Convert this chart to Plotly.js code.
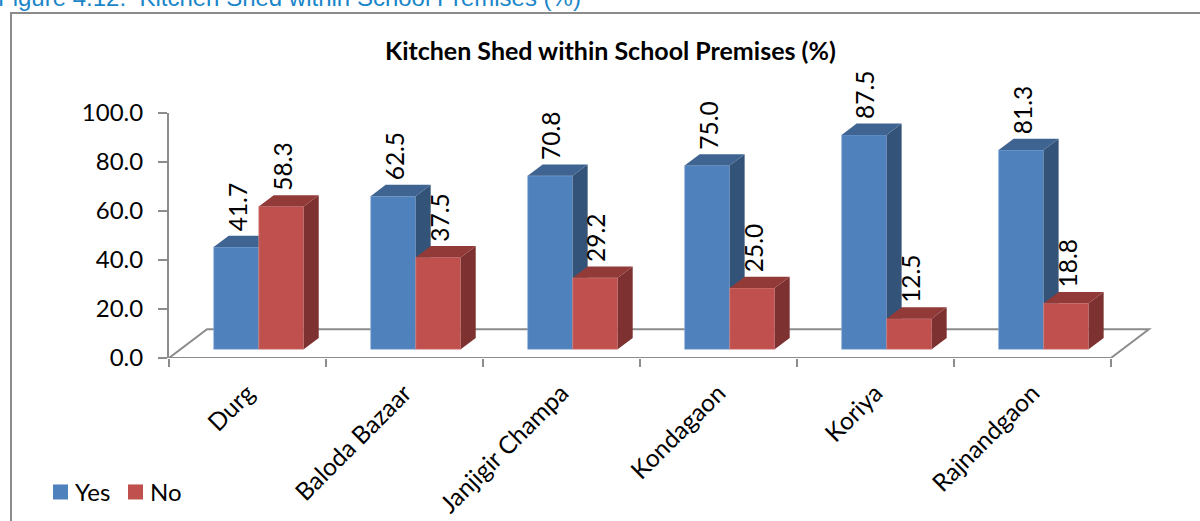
<!DOCTYPE html>
<html><head><meta charset="utf-8">
<script src="https://cdn.plot.ly/plotly-3.0.1.min.js"></script>
<style>html,body{margin:0;padding:0;background:#fff;overflow:hidden}#c{width:1200px;height:521px}</style>
</head><body><div id="c"></div>
<script>
var categories = ["Durg","Baloda Bazaar","Janjigir Champa","Kondagaon","Koriya","Rajnandgaon"];
var yesValues = [41.7,62.5,70.8,75.0,87.5,81.3];
var noValues = [58.3,37.5,29.2,25.0,12.5,18.8];
var yTicks = [0,20,40,60,80,100];
var seriesNames = ["Yes","No"];
var seriesColors = ["#4f81bd","#c0504d"];

var W=1200,H=521,L=169,R=1158.1,T=113,B=357.7;
var pxX=(R-L)/6.3, pxY=(B-T)/100;
var barW=45/pxX, lift=8.7/pxY, depthX=15/pxX, depthY=11.3/pxY, floorX=38/pxX, floorY=28.7/pxY;
var yesPos=0.428, noPos=0.715;
function px2x(p){return (p-L)/(R-L);}
function px2y(p){return (B-p)/(B-T);}

function faces(vals,pos){
  var top={x:[],y:[]},side={x:[],y:[]};
  vals.forEach(function(v,i){
    var a=i+pos-barW/2,b=i+pos+barW/2,t=v+lift;
    top.x.push(a,b,b+depthX,a+depthX,a,null);
    top.y.push(t,t,t+depthY,t+depthY,t,null);
    side.x.push(b,b+depthX,b+depthX,b,b,null);
    side.y.push(t,t+depthY,lift+depthY,lift,t,null);
  });
  return {top:top,side:side};
}
function poly(f,color,xa,ya){
  return {type:'scatter',mode:'lines',x:f.x,y:f.y,fill:'toself',fillcolor:color,line:{width:0,color:color},
    xaxis:xa,yaxis:ya,showlegend:false,hoverinfo:'skip'};
}
function bar(vals,pos,name,color,edge,xa,ya){
  return {type:'bar',name:name,x:vals.map(function(_,i){return i+pos;}),y:vals,base:vals.map(function(){return lift;}),
    width:barW,marker:{color:color,line:{color:edge,width:0.6}},xaxis:xa,yaxis:ya,cliponaxis:false,showlegend:false};
}
var fy=faces(yesValues,yesPos),fn=faces(noValues,noPos);
var traces=[
  bar(yesValues,yesPos,seriesNames[0],seriesColors[0],'#8db0dc','x','y'),
  poly(fy.side,'#345379','x','y'),
  poly(fy.top,'#3f6491','x','y'),
  bar(noValues,noPos,seriesNames[1],seriesColors[1],'#dd8f8d','x2','y2'),
  poly(fn.side,'#7d3231','x2','y2'),
  poly(fn.top,'#913a38','x2','y2')
];
var gray='#8c8c8c';
var shapes=[
  {type:'path',xref:'x',yref:'y',layer:'below',line:{color:gray,width:2},
   path:'M0,0 L'+floorX+','+floorY+' L'+(6+floorX)+','+floorY+' L6,0 Z'},
  {type:'rect',xref:'paper',yref:'paper',layer:'below',line:{color:'#8b8b8b',width:2},fillcolor:'rgba(0,0,0,0)',
   x0:px2x(11),x1:px2x(1215),y0:px2y(540),y1:px2y(13)},
  {type:'rect',xref:'paper',yref:'paper',line:{width:0},fillcolor:seriesColors[0],x0:px2x(53),x1:px2x(68),y0:px2y(499),y1:px2y(484)},
  {type:'rect',xref:'paper',yref:'paper',line:{width:0},fillcolor:seriesColors[1],x0:px2x(128),x1:px2x(143),y0:px2y(499),y1:px2y(484)}
];
var annotations=[];
function labels(vals,pos){
  vals.forEach(function(v,i){
    annotations.push({xref:'x',yref:'y',x:i+pos,y:v+lift,text:v.toFixed(1),textangle:-90,showarrow:false,
      xanchor:'center',yanchor:'bottom',xshift:1,yshift:14,font:{family:'Lato',size:24.5,color:'#000'}});
  });
}
labels(yesValues,yesPos);labels(noValues,noPos);
annotations.push({xref:'paper',yref:'paper',x:px2x(611),y:px2y(50),text:'<b>Kitchen Shed within School Premises (%)</b>',
  showarrow:false,xanchor:'center',yanchor:'middle',font:{family:'Lato',size:25,color:'#000'}});
annotations.push({xref:'paper',yref:'paper',x:px2x(-4),y:px2y(-2),text:'Figure 4.12:  Kitchen Shed within School Premises (%)',
  showarrow:false,xanchor:'left',yanchor:'middle',font:{family:'Liberation Sans',size:24,color:'#1a86c8'}});
annotations.push({xref:'paper',yref:'paper',x:px2x(73),y:px2y(491),text:seriesNames[0],showarrow:false,xanchor:'left',yanchor:'middle',
  font:{family:'Lato',size:24,color:'#000'}});
annotations.push({xref:'paper',yref:'paper',x:px2x(147.5),y:px2y(491),text:seriesNames[1],showarrow:false,xanchor:'left',yanchor:'middle',
  font:{family:'Lato',size:24,color:'#000'}});

var layout={
  width:W,height:H,margin:{l:L,r:W-R,t:T,b:H-B,pad:0,autoexpand:false},
  paper_bgcolor:'#fff',plot_bgcolor:'rgba(0,0,0,0)',barmode:'overlay',
  showlegend:false,
  xaxis:{range:[0,6.3],showgrid:false,zeroline:false,showline:false,tickmode:'array',
    tickvals:categories.map(function(_,i){return i+0.5;}),ticktext:categories,ticks:'',tickangle:-45,
    ticklabelstandoff:15,tickfont:{family:'Lato',size:24.5,color:'#000'},automargin:false,
    minor:{tickmode:'array',tickvals:[0,1,2,3,4,5,6],ticks:'outside',ticklen:8,tickwidth:2,tickcolor:gray,showgrid:false}},
  yaxis:{range:[0,100],showgrid:false,zeroline:false,showline:true,linecolor:gray,linewidth:2,automargin:false,
    tickmode:'array',tickvals:yTicks,ticktext:yTicks.map(function(v){return v.toFixed(1);}),ticklabelstandoff:10,
    ticks:'outside',ticklen:9,tickwidth:2,tickcolor:gray,tickfont:{family:'Lato',size:24,color:'#000'}},
  xaxis2:{range:[0,6.3],overlaying:'x',visible:false},
  yaxis2:{range:[0,100],overlaying:'y',visible:false},
  shapes:shapes,annotations:annotations
};
Plotly.newPlot('c',traces,layout,{displayModeBar:false,staticPlot:true});
</script></body></html>
